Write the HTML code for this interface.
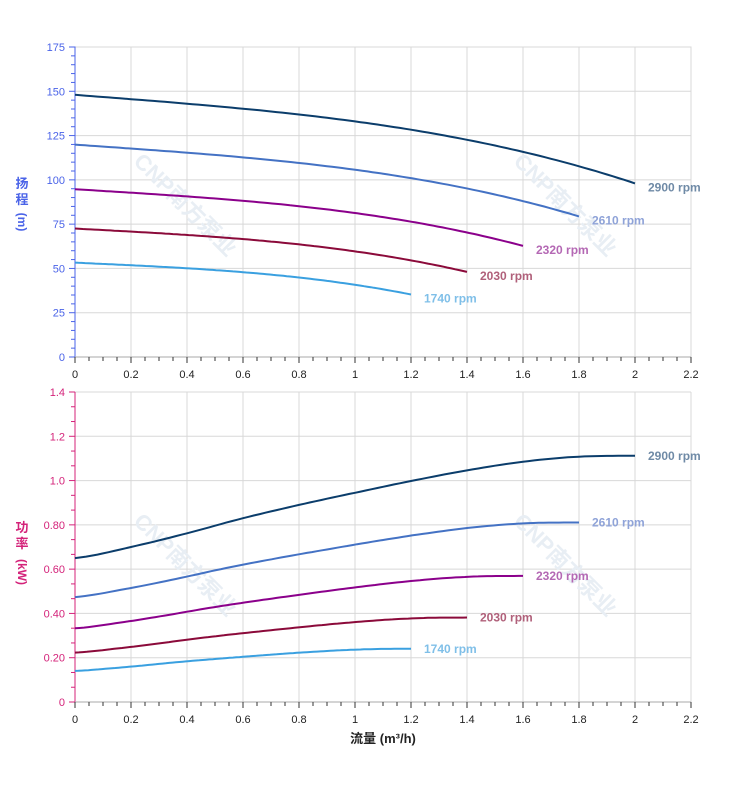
<!DOCTYPE html>
<html><head><meta charset="utf-8"><style>
html,body{margin:0;padding:0;background:#fff;}
svg{display:block;font-family:"Liberation Sans","Noto Sans CJK SC",sans-serif;}
</style></head><body>
<svg id="s" width="752" height="797" viewBox="0 0 752 797"></svg>
<script>
const S=document.getElementById('s');let o='';
const X0=75,XS=280;
const X=q=>X0+q*XS;
const T1=357,H1=310/175, T2=702,H2=310/1.4;
function grid(top,bot,majors,yf,lab,col,minorStep,ymax){
  for(let i=0;i<=11;i++){let x=X(i*0.2);o+=`<line x1="${x}" y1="${top}" x2="${x}" y2="${bot}" stroke="#d8d8d8"/>`;}
  majors.forEach(v=>{let y=yf(v);o+=`<line x1="${X0}" y1="${y}" x2="${X(2.2)}" y2="${y}" stroke="#d8d8d8"/>`;});
  o+=`<line x1="${X0}" y1="${top}" x2="${X0}" y2="${bot}" stroke="${col}"/>`;
  for(let v=0;v<=ymax+1e-9;v+=minorStep){let y=yf(v);let maj=majors.some(m=>Math.abs(m-v)<1e-6);o+=`<line x1="${maj?69:71}" y1="${y}" x2="75" y2="${y}" stroke="${col}"/>`;}
  majors.forEach((v,i)=>{o+=`<text x="65" y="${yf(v)+4}" font-size="11" fill="${col}" text-anchor="end">${lab[i]}</text>`;});
  o+=`<line x1="${X0}" y1="${bot}" x2="${X(2.2)}" y2="${bot}" stroke="#aaa"/>`;
  for(let i=0;i<=44;i++){let x=X(i*0.05);o+=`<line x1="${x}" y1="${bot}" x2="${x}" y2="${bot+(i%4==0?6:4)}" stroke="#333"/>`;}
  for(let i=0;i<=11;i++){let v=+(i*0.2).toFixed(1);o+=`<text x="${X(v)}" y="${bot+21}" font-size="11" fill="#222" text-anchor="middle">${v}</text>`;}
}
grid(46.5,T1,[0,25,50,75,100,125,150,175],v=>T1-v*H1,['0','25','50','75','100','125','150','175'],'#4a63e8',5,175);
grid(392,T2,[0,.2,.4,.6,.8,1,1.2,1.4],v=>T2-v*H2,['0','0.20','0.40','0.60','0.80','1.0','1.2','1.4'],'#d4237a',0.2/3,1.4);
[[180,210],[560,210],[180,570],[560,570]].forEach(([x,y])=>{o+=`<text x="${x}" y="${y}" font-size="22" font-weight="bold" fill="#e8eef4" transform="rotate(45 ${x} ${y})" text-anchor="middle">CNP南方泵业</text>`;});
const Hf=q=>148-12.29*q+0.94*q*q-3.646*q*q*q;
const Pq=[0,.2,.4,.6,.8,1,1.2,1.4,1.6,1.8,2],Pv=[.65,.70,.762,.83,.89,.945,.998,1.046,1.085,1.108,1.112];
function interp(xs,ys,x){for(let i=0;i<xs.length-1;i++){if(x<=xs[i+1]+1e-9){let t=(x-xs[i])/(xs[i+1]-xs[i]);
 let p0=ys[Math.max(i-1,0)],p1=ys[i],p2=ys[i+1],p3=ys[Math.min(i+2,ys.length-1)];
 let v=0.5*((2*p1)+(-p0+p2)*t+(2*p0-5*p1+4*p2-p3)*t*t+(-p0+3*p1-3*p2+p3)*t*t*t);
 return Math.min(v,1.112);}}return ys[ys.length-1];}
const series=[[2900,'#0b3d6b','#6f8aa6'],[2610,'#4472c4','#8fa3d8'],[2320,'#8b008b','#b468b4'],[2030,'#8b0a3a','#b0607a'],[1740,'#3aa0e0','#7fbfe8']];
series.forEach(([n,lc,tc])=>{
  const r=n/2900,qe=2*r;let p1='',p2='';
  for(let k=0;k<=100;k++){let q=qe*k/100,q0=q/r;
    let h=r*r*Hf(q0),p=r*r*r*interp(Pq,Pv,q0);
    p1+=(k?'L':'M')+X(q).toFixed(1)+' '+(T1-h*H1).toFixed(1);
    p2+=(k?'L':'M')+X(q).toFixed(1)+' '+(T2-p*H2).toFixed(1);}
  o+=`<path d="${p1}" fill="none" stroke="${lc}" stroke-width="2"/><path d="${p2}" fill="none" stroke="${lc}" stroke-width="2"/>`;
  let ex=X(qe)+13,hy=T1-r*r*Hf(2)*H1,py=T2-r*r*r*1.112*H2;
  o+=`<text x="${ex}" y="${hy+8}" font-size="12" font-weight="bold" fill="${tc}">${n} rpm</text>`;
  o+=`<text x="${ex}" y="${py+4}" font-size="12" font-weight="bold" fill="${tc}">${n} rpm</text>`;
});
o+=`<text x="22" y="188" font-size="13" font-weight="bold" fill="#4a63e8" text-anchor="middle">扬</text><text x="22" y="204" font-size="13" font-weight="bold" fill="#4a63e8" text-anchor="middle">程</text>`;
o+=`<text transform="translate(18 222) rotate(90)" font-size="12" font-weight="bold" fill="#4a63e8" text-anchor="middle">(m)</text>`;
o+=`<text x="22" y="532" font-size="13" font-weight="bold" fill="#d4237a" text-anchor="middle">功</text><text x="22" y="548" font-size="13" font-weight="bold" fill="#d4237a" text-anchor="middle">率</text>`;
o+=`<text transform="translate(18 572) rotate(90)" font-size="12" font-weight="bold" fill="#d4237a" text-anchor="middle">(kW)</text>`;
o+=`<text x="383" y="743" font-size="13" font-weight="bold" fill="#222" text-anchor="middle">流量 (m³/h)</text>`;
S.innerHTML=o;
</script>
</body></html>
